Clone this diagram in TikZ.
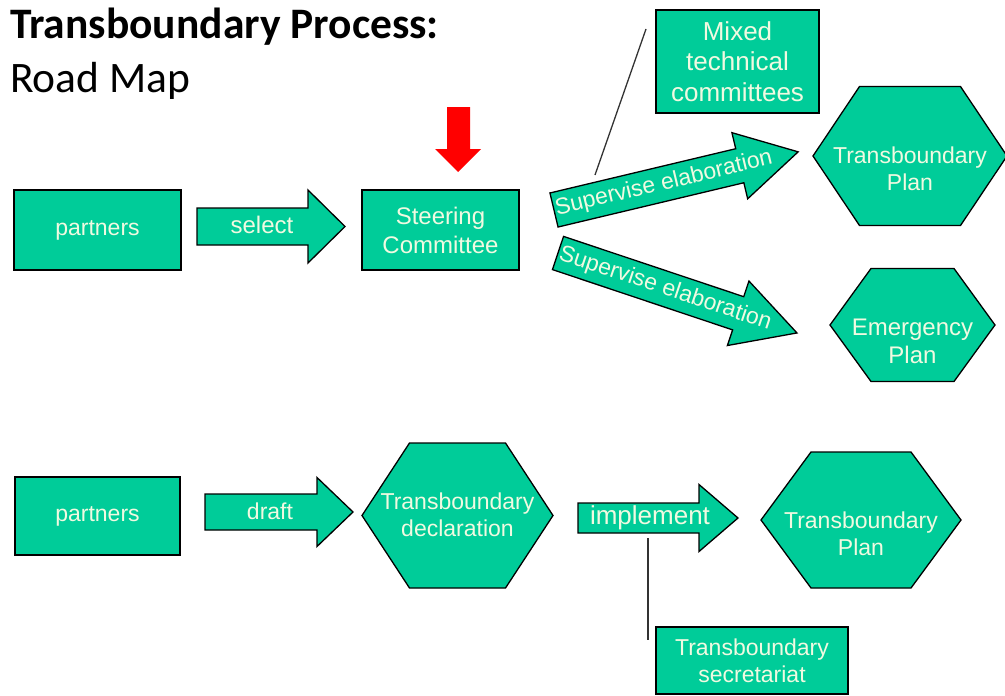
\documentclass[tikz,border=0pt]{standalone}
\usepackage{fontspec}
\setmainfont{Liberation Sans}
\newfontfamily\titlefont{Carlito}
\definecolor{tealfill}{RGB}{0,204,153}
\definecolor{boxtext}{RGB}{240,250,225}
\tikzset{
  shapebox/.style={draw=black, line width=1.3pt, fill=tealfill, line join=miter},
  lbl/.style={text=boxtext, align=center, font=\fontsize{23}{27}\selectfont, inner sep=0pt},
  rectbox/.style={shapebox, lbl, rectangle},
  linkline/.style={draw=black!80, line width=1.3pt},
  redarrow/.style={fill=red, draw=none},
  titletext/.style={anchor=base west, inner sep=0pt, text=black}
}
% hexagon: cx cy halfwidth halftopedge halfheight
\newcommand\hexshape[5]{%
  \draw[shapebox] ({#1-#3},#2) -- ({#1-#4},{#2-#5}) -- ({#1+#4},{#2-#5}) -- ({#1+#3},#2)
    -- ({#1+#4},{#2+#5}) -- ({#1-#4},{#2+#5}) -- cycle;}
% fat arrow: x y angle length shaftwidth headwidth headlength
\newcommand\fatarrow[7]{%
  \begin{scope}[shift={(#1,#2)}, rotate=#3]
    \draw[shapebox] (0,{-#5/2}) -- ({#4-#7},{-#5/2}) -- ({#4-#7},{-#6/2}) -- (#4,0)
      -- ({#4-#7},{#6/2}) -- ({#4-#7},{#5/2}) -- (0,{#5/2}) -- cycle;
  \end{scope}}
\begin{document}
\begin{tikzpicture}[x=1pt, y=-1pt]
\useasboundingbox (0,0) rectangle (1005,696);

% title
\node[titletext, font=\titlefont\fontsize{43.5}{48}\bfseries] (title) at (10,38) {Transboundary Process:};
\node[titletext, font=\titlefont\fontsize{43.5}{48}\selectfont] (subtitle) at (10,92) {Road Map};

% ---- upper row ----
\node[rectbox, minimum width=167pt, minimum height=80pt] (partnersA) at (97.5,230) {partners};

\fatarrow{197}{226.5}{0}{148}{37}{73}{37}
\node[lbl, font=\fontsize{24}{28}\selectfont] (select) at (262,225) {select};

\node[rectbox, minimum width=157pt, minimum height=80pt, font=\fontsize{24}{29}\selectfont] (steering) at (440.5,230) {Steering\\Committee};

\fill[redarrow] (447,107) -- (470,107) -- (470,149) -- (481,149) -- (458,172) -- (435,149) -- (447,149) -- cycle;

\node[rectbox, minimum width=163pt, minimum height=103pt, font=\fontsize{26}{30.5}\selectfont] (mixed) at (737.5,61.5) {Mixed\\technical\\committees};

\fatarrow{554}{210}{13.4}{251}{35}{68}{60}
\begin{scope}[shift={(554,210)}, rotate=13.4]
  \node[lbl, transform shape] (supA) at (113,0) {Supervise elaboration};
\end{scope}

\fatarrow{558}{253}{-18.5}{252}{35}{68}{62}
\begin{scope}[shift={(558,253)}, rotate=-18.5]
  \node[lbl, transform shape] (supB) at (113,0) {Supervise elaboration};
\end{scope}

\coordinate (mixedfoot) at (646,29);
\coordinate (supAtop) at (595,175);
\draw[linkline] (mixedfoot) -- (supAtop);

\hexshape{910}{156}{97}{50.5}{69.5}
\node[lbl] (planA) at (910,169) {Transboundary\\Plan};

\hexshape{912.5}{325}{82.5}{41.5}{56.5}
\node[lbl, font=\fontsize{24}{28}\selectfont] (emergency) at (912.5,341) {Emergency\\Plan};

% ---- lower row ----
\node[rectbox, minimum width=165pt, minimum height=78pt] (partnersB) at (97.5,516) {partners};

\fatarrow{205}{512}{0}{148}{36}{69}{36}
\node[lbl] (draft) at (270,511) {draft};

\hexshape{457.5}{515.5}{95.5}{48}{72.5}
\node[lbl] (declaration) at (457.5,515) {Transboundary\\declaration};

\fatarrow{578}{518}{0}{160}{30}{67}{39}
\node[lbl, font=\fontsize{26}{30}\selectfont] (implement) at (650,518) {implement};

\hexshape{861}{520}{100}{50}{68}
\node[lbl] (planB) at (861,534) {Transboundary\\Plan};

\node[rectbox, minimum width=192pt, minimum height=67pt] (secretariat) at (752,660.5) {Transboundary\\secretariat};

\coordinate (implfoot) at (648,538);
\coordinate (secrtop) at (648,640);
\draw[linkline] (implfoot) -- (secrtop);
\end{tikzpicture}
\end{document}
